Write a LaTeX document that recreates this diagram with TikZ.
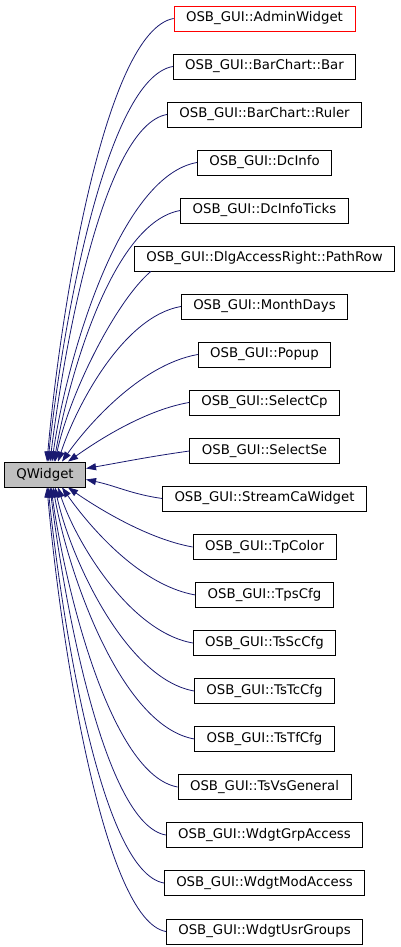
\documentclass[tikz,border=0pt]{standalone}
\usepackage{fontspec}
\setmainfont{DejaVu Sans}
\usetikzlibrary{arrows.meta}
\definecolor{edgeblue}{HTML}{191970}
\definecolor{basegray}{HTML}{BFBFBF}

\begin{document}
\begin{tikzpicture}[x=1pt, y=1pt, >={Triangle[length=10pt,width=7pt]},
    cls/.style={draw=black, line width=0.8pt, minimum height=25pt,
        inner xsep=12pt, inner ysep=0pt, font=\fontsize{13.3}{16}\selectfont},
    edge/.style={->, edgeblue, line width=0.8pt}]
    \useasboundingbox (0,0) rectangle (400,947);

    % Base class
    \node[cls, fill=basegray] (qwidget) at (45,472.5) {QWidget};

    % Derived classes
    \node[cls, draw=red] (admin) at (264.5,928.5) {OSB\_GUI::AdminWidget};
    \node[cls] (bar)       at (264.5,880.5) {OSB\_GUI::BarChart::Bar};
    \node[cls] (ruler)     at (264.5,832.5) {OSB\_GUI::BarChart::Ruler};
    \node[cls] (dcinfo)    at (264.5,784.5) {OSB\_GUI::DcInfo};
    \node[cls] (dcticks)   at (264.5,736.5) {OSB\_GUI::DcInfoTicks};
    \node[cls] (pathrow)   at (264.5,688.5) {OSB\_GUI::DlgAccessRight::PathRow};
    \node[cls] (monthdays) at (264.5,640.5) {OSB\_GUI::MonthDays};
    \node[cls] (popup)     at (264.5,592.5) {OSB\_GUI::Popup};
    \node[cls] (selectcp)  at (264.5,544.5) {OSB\_GUI::SelectCp};
    \node[cls] (selectse)  at (264.5,496) {OSB\_GUI::SelectSe};
    \node[cls] (streamca)  at (264.5,448.5) {OSB\_GUI::StreamCaWidget};
    \node[cls] (tpcolor)   at (264.5,400) {OSB\_GUI::TpColor};
    \node[cls] (tpscfg)    at (264.5,352) {OSB\_GUI::TpsCfg};
    \node[cls] (tssccfg)   at (264.5,304) {OSB\_GUI::TsScCfg};
    \node[cls] (tstccfg)   at (264.5,256) {OSB\_GUI::TsTcCfg};
    \node[cls] (tstfcfg)   at (264.5,208) {OSB\_GUI::TsTfCfg};
    \node[cls] (tsvsgen)   at (264.5,160) {OSB\_GUI::TsVsGeneral};
    \node[cls] (grpaccess) at (264.5,112) {OSB\_GUI::WdgtGrpAccess};
    \node[cls] (modaccess) at (264.5,64) {OSB\_GUI::WdgtModAccess};
    \node[cls] (usrgroups) at (264.5,15.5) {OSB\_GUI::WdgtUsrGroups};

    % Inheritance edges, upper half
    \draw[edge] (admin.west) to[out=190, in=85, out distance=70, in distance=150] ([xshift=2]qwidget.north);
    \draw[edge] (bar.west) to[out=190, in=84, out distance=68, in distance=135] ([xshift=3]qwidget.north);
    \draw[edge] (ruler.west) to[out=190, in=83, out distance=64, in distance=118] ([xshift=5]qwidget.north);
    \draw[edge] (dcinfo.west) to[out=190, in=82, out distance=79, in distance=102] ([xshift=7]qwidget.north);
    \draw[edge] (dcticks.west) to[out=190, in=80, out distance=69, in distance=86] ([xshift=9]qwidget.north);
    \draw[edge] ([xshift=17]pathrow.south west) to[out=220, in=78, out distance=45, in distance=70] ([xshift=10]qwidget.north);
    \draw[edge] (monthdays.west) to[out=190, in=72, out distance=60, in distance=55] ([xshift=13]qwidget.north);
    \draw[edge] (popup.west) to[out=190, in=55, out distance=60, in distance=40] ([xshift=17]qwidget.north);
    \draw[edge] (selectcp.west) to[out=190, in=35, out distance=50, in distance=25] ([xshift=23]qwidget.north);

    % Inheritance edges, middle
    \draw[edge] (selectse.west) to[out=188, in=10] ([yshift=6]qwidget.east);
    \draw[edge] (streamca.west) to[out=172, in=-12] ([yshift=-5]qwidget.east);

    % Inheritance edges, lower half
    \draw[edge] (tpcolor.west) to[out=170, in=-35, out distance=50, in distance=25] ([xshift=23]qwidget.south);
    \draw[edge] (tpscfg.west) to[out=170, in=-55, out distance=60, in distance=40] ([xshift=17]qwidget.south);
    \draw[edge] (tssccfg.west) to[out=170, in=-72, out distance=65, in distance=55] ([xshift=13]qwidget.south);
    \draw[edge] (tstccfg.west) to[out=170, in=-78, out distance=70, in distance=70] ([xshift=10]qwidget.south);
    \draw[edge] (tstfcfg.west) to[out=170, in=-80, out distance=75, in distance=86] ([xshift=8]qwidget.south);
    \draw[edge] (tsvsgen.west) to[out=170, in=-82, out distance=68, in distance=102] ([xshift=6]qwidget.south);
    \draw[edge] (grpaccess.west) to[out=170, in=-83, out distance=62, in distance=118] ([xshift=5]qwidget.south);
    \draw[edge] (modaccess.west) to[out=170, in=-84, out distance=64, in distance=135] ([xshift=3]qwidget.south);
    \draw[edge] (usrgroups.west) to[out=170, in=-85, out distance=64, in distance=150] ([xshift=2]qwidget.south);
\end{tikzpicture}
\end{document}
